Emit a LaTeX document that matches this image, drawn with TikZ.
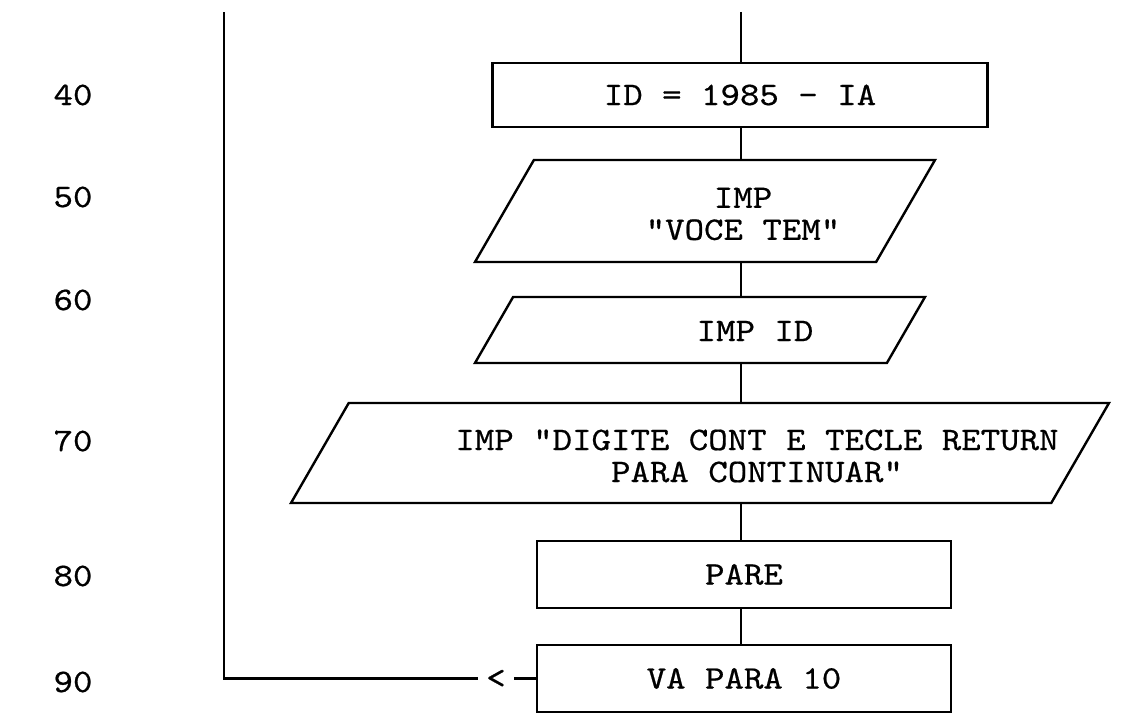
\documentclass[tikz,border=0pt]{standalone}
\usepackage{fontspec}
\usepackage{tikz}
\usetikzlibrary{
  shapes.geometric,
  positioning,
  calc
}
\newfontfamily\fcfamily[Extension=.otf, FakeStretch=1.13, FakeBold=0.6]{lmmono10-regular}
\newcommand\fcfont{\fcfamily\fontsize{16.4}{16}\selectfont}
\tikzset{
  fcnode/.style={
    draw, line width=1.2pt, font=\fcfont, align=center
  },
  fcbox/.style={fcnode, rectangle},
  fcio/.style={fcnode, trapezium, trapezium left angle=60, trapezium right angle=120,
    trapezium stretches body=true, inner xsep=2pt, inner ysep=0pt},
  fctext/.style={font=\fcfont, align=center, inner sep=0pt},
  lineno/.style={font=\fcfont},
  flowline/.style={line width=1.2pt}
}

\begin{document}
\begin{tikzpicture}[x=0.5pt, y=-0.5pt]
  \useasboundingbox (0,0) rectangle (1121,716);
  % line numbers
  \foreach \n/\y in {40/95, 50/197, 60/300, 70/441, 80/576, 90/682}
    \node[lineno] (n\n) at (73,\y) {\n};
  % blocks
  \node[fcbox, minimum width=247.5pt, minimum height=32pt] (b40) at (740,95) {ID = 1985 - IA};
  \node[fcio, minimum width=230pt] (p50) at (705,211) {\rule{0pt}{51pt}};
  \node[fctext] (t50) at (743,214) {IMP\\"VOCE TEM"};
  \node[fcio, minimum width=225pt] (p60) at (700,330) {\rule{0pt}{33pt}};
  \node[fctext] (t60) at (755,331) {IMP ID};
  \node[fcio, minimum width=409pt] (p70) at (700,453) {\rule{0pt}{50pt}};
  \node[fctext] (t70) at (757,456) {IMP "DIGITE CONT E TECLE RETURN\\PARA CONTINUAR"};
  \node[fcbox, minimum width=207pt, minimum height=33.5pt] (b80) at (744,574.5) {PARE};
  \node[fcbox, minimum width=207pt, minimum height=33.5pt] (b90) at (744,678.5) {VA PARA 10};
  \node[fctext, inner xsep=4pt] (lt) at (496,679) {<};
  % flow lines
  \coordinate (spine) at (741,12);
  \coordinate (ltop) at (224,12);
  \draw[flowline] (spine) -- (spine |- b40.north);
  \draw[flowline] (spine |- b40.south) -- (spine |- p50.north);
  \draw[flowline] (spine |- p50.south) -- (spine |- p60.north);
  \draw[flowline] (spine |- p60.south) -- (spine |- p70.north);
  \draw[flowline] (spine |- p70.south) -- (spine |- b80.north);
  \draw[flowline] (spine |- b80.south) -- (spine |- b90.north);
  % return to 10
  \draw[flowline] (b90.west) -- (lt.east |- b90.west);
  \draw[flowline] (lt.west |- b90.west) -- (ltop |- b90.west) -- (ltop);
\end{tikzpicture}
\end{document}
